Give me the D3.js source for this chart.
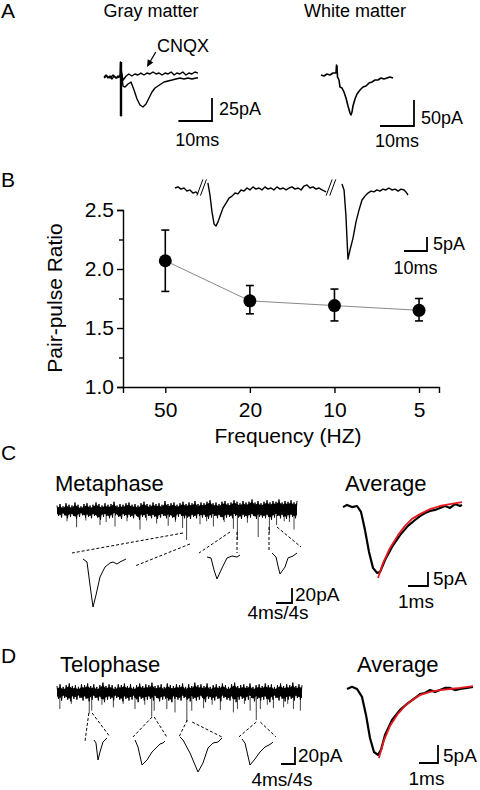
<!DOCTYPE html>
<html><head><meta charset="utf-8">
<script src="https://cdn.jsdelivr.net/npm/d3@7"></script>
<style>
body{margin:0;background:#fff}
text{font-family:"Liberation Sans",Arial,sans-serif;fill:#000}
</style>
</head><body>
<svg id="c" width="480" height="790"></svg>
<script>
// ---------------- DATA ----------------
// Panel B: pair-pulse ratio
const freqLabels = ["50","20","10","5"];
const pprMean = [2.07,1.73,1.69,1.65];
const pprHigh = [2.33,1.86,1.83,1.75];
const pprLow  = [1.81,1.62,1.56,1.56];
const pprTicks = [1.0,1.5,2.0,2.5];
const pprMinorTicks = [1.25,1.75,2.25];

// Panel A: gray matter (ms, pA)
const grayCtrlT = [0,0.6,1.19,1.79,2.38,2.98,3.57,4.17,4.77,4.92,5.06,5.21,5.66,6.26,7.15,8.04,8.94,9.83,10.72,11.62,12.51,13.4,14.3,15.19,16.09,16.98,17.87,19.06,20.26,21.45,22.64,23.83,25.02,26.21,27.41,28];
const grayCtrlV = [0,2.2,-1.1,1.1,-2.2,1.1,-1.1,1.1,0,16.3,-42.4,6.5,-9.8,-10.9,-7.6,-5.4,-14.1,-23.9,-30.4,-32.6,-29.3,-22.8,-16.3,-12,-9.8,-7.6,-5.4,-4.3,-3.3,-2.2,-1.1,-2.2,-1.1,-2.2,-1.1,-1.1];
const grayCnqxT = [0,0.9,1.8,2.7,3.6,4.5,5.2,5.7,6.6,7.4,8.3,9.2,10.1,11,11.9,12.8,13.7,14.6,15.5,16.4,17.3,18.2,19.1,20,20.9,21.7,22.6,23.5,24.4,25.3,26.2,27.1,28];
const grayCnqxV = [-1.1,1.1,-1.1,2.2,-1.1,0,4.3,-3.3,1.1,3.3,1.1,3.3,2.2,4.3,2.2,4.3,3.3,5.4,3.3,4.3,2.2,4.3,3.3,5.4,2.2,4.3,3.3,5.4,2.2,4.3,3.3,5.4,4.3];
// Panel A: white matter (ms, pA)
const whiteT = [0,0.88,1.76,2.65,3.53,4.41,4.56,4.71,4.85,5.29,5.59,6.18,6.76,7.35,7.94,8.53,8.82,9.12,9.41,10,10.59,11.47,12.35,13.24,14.12,15,15.88,16.76,17.65,18.53,19.41,20.29,21.18];
const whiteV = [0,-1.9,1.9,0,3.8,3.8,19.2,17.3,-3.8,-9.6,-23.1,-25,-32.7,-44.2,-59.6,-73.1,-76.9,-71.2,-59.6,-46.2,-36.5,-28.8,-23.1,-21.2,-15.4,-13.5,-9.6,-9.6,-5.8,-7.7,-5.8,-3.8,-5.8];

// Panel B inset: paired-pulse trace, three segments (ms, pA)
const ppSeg1T = [0,1.3,2.6,3.9,5.2,6.5,7.8,9.1,10];
const ppSeg1V = [0,0.4,-0.4,0,-1.1,-0.7,-1.8,-1.4,-2.1];
const ppSeg2T = [14.3,15.2,16.1,17,17.8,18.7,19.6,20.9,22.2,23.5,24.8,26.1,27.4,28.7,30,31.3,32.6,33.9,35.2,36.5,37.8,39.1,40.4,41.7,43,44.3,45.7,47,48.3,49.6,50.9,52.2,53.5,54.8,56.1,57.4,58.7,60,61.3,62.6,63.9,65.7];
const ppSeg2V = [1.8,-2.5,-8.6,-12.9,-13.6,-12.1,-10,-7.1,-5.4,-3.6,-2.9,-1.8,-2.1,-0.7,-1.1,0,-0.7,0.4,-0.4,0,-0.7,0.4,-0.4,0,-0.7,0.4,-0.4,0,-0.7,0,0.4,-0.4,0,-0.7,0.7,1.1,0,0.4,-0.4,0,-0.7,-1.4];
const ppSeg3T = [72.6,73.5,74.3,75.2,76.1,77.4,78.7,80,81.3,82.6,83.9,85.2,86.5,87.8,89.1,90.4,91.7,93,94.3,95.7,97,98.3,99.6,100.4,101.3];
const ppSeg3V = [1.4,-0.7,-9.6,-25.4,-22.1,-17.9,-12.1,-7.9,-4.3,-2.9,-1.8,-1.1,-1.4,-0.7,-1.1,-0.4,-0.7,0,-0.7,-0.4,-1.1,-0.4,-0.7,-1.4,-2.5];
const ppBreaks = [11.6, 67.8];

// Panel C: metaphase continuous recording, noise envelope every 0.75 s (pA)
const metaHigh = [6,8,5,9,7,6,10,7,5,8, 9,6,7,10,8,6,9,7,8,11, 6,8,7,9,10,7,8,6,9,11, 8,7,10,8,9,7,12,8,9,10, 7,9,11,8,10,9,12,8,10,9, 11,13,9,10,8,11,12,9,10,13, 11,9,12,10,11,14,10,12,9,11, 13,10,12,11,14,10,12,11,13,10, 12];
const metaLow  = [-8,-10,-7,-11,-9,-8,-12,-9,-7,-10, -9,-11,-8,-10,-13,-9,-8,-11,-10,-7, -9,-12,-8,-10,-9,-11,-8,-13,-9,-10, -8,-11,-9,-12,-10,-8,-11,-9,-10,-13, -9,-8,-11,-10,-12,-9,-11,-8,-10,-9, -12,-10,-8,-11,-9,-13,-10,-9,-11,-8, -10,-12,-9,-11,-10,-8,-12,-9,-10,-11, -9,-13,-10,-8,-11,-9,-12,-10,-9,-11, -10];
const metaSpikeT = [2.5,4.9,7.2,10.75,12.3,14.5,17.5,20.75,22.4,24.9,27.8,29.6,31.4,32.4,35.75,37.4,39.1,41.8,44.1,45.1,47.6,50.3,53.1,54.9,56.8,58.1,59.25];
const metaSpikeA = [15,23,14,20,16,22,15,26,14,18,21,16,24,40,19,15,22,16,25,40,17,36,31,20,15,16,26];
// expanded events (ms, pA)
const metaEv1T = [0,1,1.75,2.5,3.25,4.25,5.5,6.75,7.5,8.5,9.25,10.75];
const metaEv1V = [0,-4,-34.7,-64,-48,-24,-10.7,-5.3,-4,-6.7,-4,0];
const metaEv2T = [0,1,1.75,2.5,3.75,5,6.25,7.5,8.25];
const metaEv2V = [0,-1.3,-17.3,-29.3,-14.7,-1.3,1.3,0,2.7];
const metaEv3T = [0,1,1.5,2,3.25,4,5.25,6.25];
const metaEv3V = [0,-5.3,-17.3,-28,-18.7,-6.7,-4,0];
// guide lines: [band time s, band pA, event #, event ms, event pA]
const metaGuides = [[31.5,-30.7,0,-2.75,8],[33.25,-45.3,0,13,-9.3],[43.25,-29.3,1,-2,5.3],[45,-29.3,1,7.5,5.3],[53,-22.7,2,-0.75,2.7],[55,-22.7,2,7.25,8]];
// average & fit (ms, pA)
const metaAvgT = [0,0.2,0.45,0.7,0.9,1.1,1.3,1.5,1.7,1.85,2.1,2.45,2.85,3.25,3.6,3.85,4.1,4.35,4.6,4.85,5.1,5.35,5.6,5.85,5.95];
const metaAvgV = [-0.4,0.4,-0.4,0,-2.1,-8.6,-16.4,-22.1,-23.9,-23.6,-19.3,-14.6,-10.4,-7.1,-5,-3.6,-2.5,-1.8,-1.4,-0.7,0,-0.7,0.7,0,0.4];
const metaFitT = [1.75,2,2.35,2.75,3.1,3.45,3.85,4.35,4.85,5.35,5.95];
const metaFitV = [-25.7,-20.4,-15,-10.4,-7.1,-4.6,-2.9,-1.1,0,0.7,1.4];

// Panel D: telophase
const teloHigh = [7,9,6,8,10,7,8,6,9,8, 10,7,9,6,8,11,7,9,8,6, 9,8,10,7,9,6,8,10,7,9, 8,11,7,8,9,6,10,8,7,9, 8,10,6,9,7,11,8,9,7,10, 6,8,9,7,10,8,6,9,11,7, 8,9,7,10,6,8,9,7,10,8, 9,6,8,10,7,9,8,11,7,9, 8];
const teloLow  = [-8,-10,-7,-9,-11,-8,-9,-7,-10,-8, -11,-9,-7,-10,-8,-12,-9,-8,-10,-7, -9,-11,-8,-10,-9,-7,-12,-8,-10,-9, -8,-10,-7,-11,-9,-8,-10,-12,-8,-9, -10,-7,-9,-11,-8,-10,-9,-7,-12,-8, -9,-10,-8,-11,-7,-9,-10,-8,-12,-9, -8,-10,-9,-7,-11,-8,-10,-9,-8,-12, -9,-7,-10,-8,-11,-9,-8,-10,-7,-9, -10];
const teloSpikeT = [0.7,3.5,7.9,8.5,11,13.8,16.2,19.1,21.5,23.2,23.8,26.9,28.9,31.8,33,35.9,38,40,43.2,44.2,45.9,47.3,48.8,49.8,51.5,53,55.5,56.5,57.9,59.6];
const teloSpikeA = [20,14,25,22,15,18,14,20,15,29,22,20,24,35,22,19,15,21,24,20,14,22,33,20,15,19,18,14,20,22];
const teloEv1T = [0,0.57,1.14,1.71,2.57,3.14,3.71];
const teloEv1V = [0,-3.5,-23.5,-14.1,-2.4,0,2.4];
const teloEv2T = [0,0.86,2,3.43,4.86,6.29,7.14,8,8.57];
const teloEv2V = [0,-8.2,-29.4,-23.5,-14.1,-8.2,-4.7,-3.5,-1.2];
const teloEv3T = [0,0.86,2.86,5.14,6.57,8,9.43,10.86,12];
const teloEv3V = [0,-3.5,-18.8,-41.2,-30.6,-12.9,-7.1,-5.9,-1.2];
const teloEv4T = [0,0.86,2.29,3.71,5.14,6.57,7.71,8.57,8.86];
const teloEv4V = [0,-4.7,-30.6,-23.5,-15.3,-9.4,-7.1,-4.7,-3.5];
const teloGuides = [[7.8,-24.7,0,-2.6,-2.4],[8.6,-24.7,0,4.6,3.5],[23.3,-29.4,1,-0.6,3.5],[23.8,-29.4,1,9.1,3.5],[31.9,-33,2,-0.3,0],[33.1,-35.3,2,12,0],[48.8,-35.3,3,-0.9,2.4],[49.8,-35.3,3,9.7,2.4]];
const teloAvgT = [0,0.26,0.53,0.79,1,1.21,1.42,1.63,1.79,2,2.37,2.79,3.21,3.58,3.84,4.1,4.37,4.63,4.89,5.16,5.42,5.68,5.95,6.32,6.63];
const teloAvgV = [0,0.6,0,-2.2,-7.2,-13.6,-17.5,-18.3,-16.9,-12.8,-8.6,-5.8,-3.9,-2.5,-1.4,-1.1,-0.3,-0.8,-0.3,0.3,0.3,-0.3,0,0.3,0.6];
const teloFitT = [1.68,1.95,2.26,2.68,3.05,3.42,3.84,4.37,4.89,5.42,5.95,6.63];
const teloFitV = [-19.2,-14.2,-10.3,-6.9,-4.7,-3.1,-1.7,-0.8,-0.3,0,0.3,0.8];

// ---------------- DRAWING ----------------
const svg = d3.select("#c");

function trace(g, T, V, sx, sy, color, w){
  const line = d3.line().x((d,i)=>sx(T[i])).y((d,i)=>sy(V[i]));
  g.append("path").attr("d", line(T)).attr("fill","none")
    .attr("stroke", color).attr("stroke-width", w).attr("stroke-linejoin","round");
}
function linScale(d0, r0, pxPerUnit, inverted){
  return d3.scaleLinear().domain([d0, d0+1]).range([r0, r0 + (inverted?-pxPerUnit:pxPerUnit)]);
}
// scale bar: corner at (cx, cy), lengths from scales
function scaleBar(cx, cy, sx, sy, tUnits, vUnits, vLabel, tLabel, o){
  const w = Math.abs(sx(tUnits)-sx(0)), h = Math.abs(sy(vUnits)-sy(0));
  svg.append("path").attr("d", `M${cx-w},${cy}H${cx}V${cy-h}`)
    .attr("fill","none").attr("stroke","#000").attr("stroke-width",1.8);
  svg.append("text").attr("x", cx+o.vx).attr("y", cy+o.vy).attr("font-size",o.fs).text(vLabel);
  svg.append("text").attr("x", cx-w/2+o.tx).attr("y", cy+o.ty).attr("text-anchor","middle").attr("font-size",o.fs).text(tLabel);
}
function label(x,y,t,fs,anchor){
  return svg.append("text").attr("x",x).attr("y",y).attr("font-size",fs).attr("text-anchor",anchor||"start").text(t);
}

// ---- Panel A ----
label(1,18,"A",21);
label(151,17,"Gray matter",18,"middle");
label(355,17,"White matter",18,"middle");
{
  const sx = linScale(0,104,3.357), sy = linScale(0,77,0.92,true);
  const g = svg.append("g");
  trace(g, grayCnqxT, grayCnqxV, sx, sy, "#000", 1.4);
  trace(g, grayCtrlT, grayCtrlV, sx, sy, "#000", 1.4);
  // artifact bar
  g.append("line").attr("x1",sx(5.06)).attr("x2",sx(5.06)).attr("y1",sy(16.3)).attr("y2",sy(-42.4)).attr("stroke","#000").attr("stroke-width",2.4);
  label(157,52,"CNQX",18);
  // arrow from label to CNQX trace
  const tip=[sx(12.8), sy(10.9)], tail=[sx(15.4), sy(27)];
  const ang = Math.atan2(tip[1]-tail[1], tip[0]-tail[0]);
  const L=7, Wd=3.2;
  const bx = tip[0]-L*Math.cos(ang), by = tip[1]-L*Math.sin(ang);
  g.append("line").attr("x1",tail[0]).attr("y1",tail[1]).attr("x2",bx).attr("y2",by).attr("stroke","#000").attr("stroke-width",1.2);
  g.append("path").attr("d",`M${tip[0]},${tip[1]}L${bx+Wd*Math.sin(ang)},${by-Wd*Math.cos(ang)}L${bx-Wd*Math.sin(ang)},${by+Wd*Math.cos(ang)}Z`).attr("fill","#000");
  scaleBar(212,121,sx,sy,10,25,"25pA","10ms",{vx:7,vy:-6,tx:2,ty:25,fs:18});
}
{
  const sx = linScale(0,321,3.4), sy = linScale(0,75,0.52,true);
  const g = svg.append("g");
  trace(g, whiteT, whiteV, sx, sy, "#000", 1.6);
  scaleBar(414,126,sx,sy,10,50,"50pA","10ms",{vx:7,vy:-2,tx:0,ty:21,fs:18});
}

// ---- Panel B ----
label(1,187,"B",21);
{
  const x = d3.scaleLinear().domain([-0.5,3.236]).range([123,439]);
  const y = d3.scaleLinear().domain([1.0,2.5]).range([387,210]);
  const gx = svg.append("g").attr("transform","translate(0,387)")
    .call(d3.axisBottom(x).tickValues([0,1,2,3]).tickFormat(i=>freqLabels[i]).tickSizeOuter(0).tickSize(6).tickPadding(4));
  const gy = svg.append("g").attr("transform","translate(123,0)")
    .call(d3.axisLeft(y).tickValues(pprTicks).tickFormat(d3.format(".1f")).tickSizeOuter(0).tickSize(6).tickPadding(3));
  svg.append("g").attr("transform","translate(123,0)")
    .call(d3.axisLeft(y).tickValues(pprMinorTicks).tickFormat("").tickSizeOuter(0).tickSize(4))
    .select(".domain").remove();
  svg.selectAll(".tick text").attr("font-size",21).attr("font-family","Liberation Sans, Arial, sans-serif").attr("fill","#000");
  svg.selectAll(".domain, .tick line").attr("stroke","#000").attr("stroke-width",1.4);
  gx.selectAll(".tick text").attr("dy","0.95em");
  label(288,443,"Frequency (HZ)",21,"middle");
  svg.append("text").attr("transform","translate(62,298) rotate(-90)").attr("text-anchor","middle").attr("font-size",21).text("Pair-pulse Ratio");

  const idx = d3.range(freqLabels.length);
  svg.append("path").attr("d", d3.line().x(i=>x(i)).y(i=>y(pprMean[i]))(idx))
    .attr("fill","none").attr("stroke","#888").attr("stroke-width",1);
  const eb = svg.append("g").attr("stroke","#000").attr("stroke-width",1.6);
  idx.forEach(i=>{
    eb.append("line").attr("x1",x(i)).attr("x2",x(i)).attr("y1",y(pprHigh[i])).attr("y2",y(pprLow[i]));
    eb.append("line").attr("x1",x(i)-4).attr("x2",x(i)+4).attr("y1",y(pprHigh[i])).attr("y2",y(pprHigh[i]));
    eb.append("line").attr("x1",x(i)-4).attr("x2",x(i)+4).attr("y1",y(pprLow[i])).attr("y2",y(pprLow[i]));
  });
  svg.append("g").selectAll("circle").data(idx).join("circle")
    .attr("cx",i=>x(i)).attr("cy",i=>y(pprMean[i])).attr("r",6.5).attr("fill","#000");

  // inset trace
  const sx = linScale(0,175,2.3), sy = linScale(0,188,2.8,true);
  const g = svg.append("g");
  trace(g, ppSeg1T, ppSeg1V, sx, sy, "#000", 1.4);
  trace(g, ppSeg2T, ppSeg2V, sx, sy, "#000", 1.4);
  trace(g, ppSeg3T, ppSeg3V, sx, sy, "#000", 1.4);
  ppBreaks.forEach(t=>{
    [-1.8,1.8].forEach(off=>{
      g.append("line").attr("x1",sx(t)+off-3).attr("y1",sy(-2)+2).attr("x2",sx(t)+off+3).attr("y2",sy(2)-3)
        .attr("stroke","#000").attr("stroke-width",1);
    });
  });
  scaleBar(427,251,sx,sy,10,5,"5pA","10ms",{vx:6,vy:-1,tx:0,ty:23,fs:18});
}

// ---- Panels C & D ----
function recordingPanel(cfg){
  label(1,cfg.letterY,cfg.letter,21);
  label(cfg.titleX,cfg.titleY,cfg.title,22);
  label(cfg.avgX,cfg.titleY,"Average",22);
  const step = 60/(cfg.high.length-1);
  const bx = d3.scaleLinear().domain([0,60]).range(cfg.bandRange);
  const by = linScale(0,cfg.bandY,cfg.bandPx,true);
  // spikes (behind band)
  svg.append("g").selectAll("line").data(cfg.spikeT).join("line")
    .attr("x1",d=>bx(d)).attr("x2",d=>bx(d)).attr("y1",by(-6)).attr("y2",(d,i)=>by(-cfg.spikeA[i]))
    .attr("stroke","#444").attr("stroke-width",1);
  // solid core of the noise band
  const idx = cfg.high.map((d,i)=>i);
  const core = d3.area().x(i=>bx(i*step)).y0(i=>by(cfg.low[i]+3)).y1(i=>by(cfg.high[i]-3));
  svg.append("path").attr("d",core(idx)).attr("fill","#000");
  // dense noisy trace: zig-zag between envelope values
  const pts = [];
  idx.forEach(i=>{ pts.push([i*step, cfg.high[i]]); if(i<idx.length-1) pts.push([i*step+step/2, cfg.low[i]]); });
  svg.append("path").attr("d", d3.line().x(d=>bx(d[0])).y(d=>by(d[1]))(pts))
    .attr("fill","none").attr("stroke","#000").attr("stroke-width",1);
  // events
  const ex = cfg.events.map(e=>linScale(0,e.x,cfg.evPxT));
  const ey = cfg.events.map(e=>linScale(0,e.y,cfg.evPxV,true));
  cfg.events.forEach((e,k)=> trace(svg, e.T, e.V, ex[k], ey[k], "#000", 1));
  svg.append("g").selectAll("line").data(cfg.guides).join("line")
    .attr("x1",d=>bx(d[0])).attr("y1",d=>by(d[1]))
    .attr("x2",d=>ex[d[2]](d[3])).attr("y2",d=>ey[d[2]](d[4]))
    .attr("stroke","#000").attr("stroke-width",1).attr("stroke-dasharray","3,2");
  scaleBar(cfg.sbX,cfg.sbY,ex[0],ey[0],4,20,"20pA","4ms/4s",{vx:3,vy:-2,tx:-6,ty:cfg.sbTy,fs:19});
  // average
  const ax = linScale(0,cfg.avgPos[0],cfg.avgPxT), ay = linScale(0,cfg.avgPos[1],cfg.avgPxV,true);
  trace(svg, cfg.avgT, cfg.avgV, ax, ay, "#000", 2.2);
  trace(svg, cfg.fitT, cfg.fitV, ax, ay, "#e8191f", 1.8);
  scaleBar(cfg.asbX,cfg.asbY,ax,ay,1,5,"5pA","1ms",{vx:5,vy:-1,tx:-2,ty:cfg.asbTy,fs:19});
}
recordingPanel({letter:"C",letterY:460,title:"Metaphase",titleX:55,titleY:491,avgX:345,
  bandRange:[57,297],bandY:510,bandPx:0.75,high:metaHigh,low:metaLow,spikeT:metaSpikeT,spikeA:metaSpikeA,
  evPxT:4,evPxV:0.75,
  events:[{x:83,y:559,T:metaEv1T,V:metaEv1V},{x:207,y:557,T:metaEv2T,V:metaEv2V},{x:272,y:553,T:metaEv3T,V:metaEv3V}],
  guides:metaGuides, sbX:292,sbY:603,sbTy:16,
  avgPos:[343,506],avgPxT:20,avgPxV:2.8,avgT:metaAvgT,avgV:metaAvgV,fitT:metaFitT,fitV:metaFitV,
  asbX:428,asbY:586,asbTy:22});
recordingPanel({letter:"D",letterY:663,title:"Telophase",titleX:60,titleY:672,avgX:357,
  bandRange:[57,302],bandY:692,bandPx:0.85,high:teloHigh,low:teloLow,spikeT:teloSpikeT,spikeA:teloSpikeA,
  evPxT:3.5,evPxV:0.85,
  events:[{x:94,y:740,T:teloEv1T,V:teloEv1V},{x:135,y:740,T:teloEv2T,V:teloEv2V},{x:180,y:737,T:teloEv3T,V:teloEv3V},{x:242,y:739,T:teloEv4T,V:teloEv4V}],
  guides:teloGuides, sbX:295,sbY:764,sbTy:22,
  avgPos:[347,689],avgPxT:19,avgPxV:3.6,avgT:teloAvgT,avgV:teloAvgV,fitT:teloFitT,fitV:teloFitV,
  asbX:438,asbY:763,asbTy:22});
</script>
</body></html>
